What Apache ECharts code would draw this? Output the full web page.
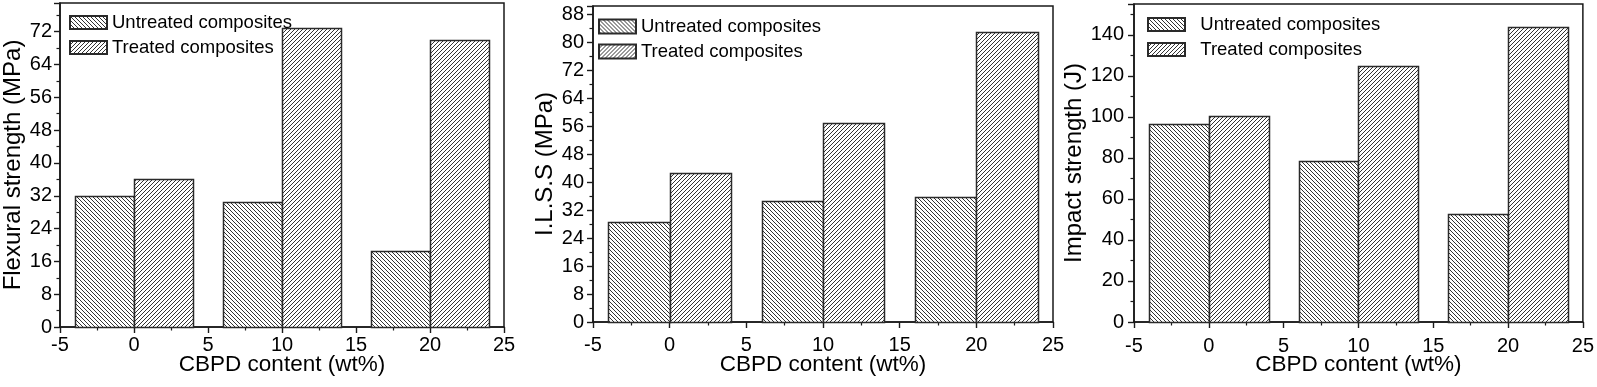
<!DOCTYPE html>
<html>
<head>
<meta charset="utf-8">
<script src="https://cdn.jsdelivr.net/npm/echarts@6/dist/echarts.min.js"></script>
<style>
html,body{margin:0;padding:0;background:#fff;}
#c{width:1597px;height:387px;}
</style>
</head>
<body>
<div id="c"></div>
<script>
// ---- data ----
var contents = [0, 10, 20];                       // CBPD content (wt%)
var flexUntreated = [32, 30.6, 18.5];             // Flexural strength (MPa)
var flexTreated   = [36, 72.9, 70];
var ilssUntreated = [28.7, 34.6, 35.8];           // I.L.S.S (MPa)
var ilssTreated   = [42.8, 56.9, 83];
var impUntreated  = [96.4, 78.3, 52.4];           // Impact strength (J)
var impTreated    = [100.3, 124.7, 143.6];
var seriesNames = ['Untreated composites', 'Treated composites'];
var xTitle = 'CBPD content (wt%)';
var yTitles = ['Flexural strength (MPa)', 'I.L.S.S (MPa)', 'Impact strength (J)'];

var BAR_W = 4; // bar width in x-axis units

function hatch(dir) {
  var s = 4, cv = document.createElement('canvas');
  cv.width = s; cv.height = s;
  var ctx = cv.getContext('2d');
  ctx.fillStyle = '#fff'; ctx.fillRect(0, 0, s, s);
  ctx.fillStyle = '#333';
  for (var i = 0; i < s; i++) {
    var x = dir === 'back' ? i : (s - 1 - i);
    ctx.fillRect(x, i, 1, 1);
  }
  return {image: cv, repeat: 'repeat'};
}
var patU = hatch('back');
var patT = hatch('fwd');

function zip(xs, ys) { return xs.map(function (x, i) { return [x, ys[i]]; }); }

function renderer(left, pat) {
  return function (params, api) {
    var x = api.value(0), y = api.value(1);
    var a = api.coord([left ? x - BAR_W : x, y]);
    var b = api.coord([left ? x : x + BAR_W, 0]);
    return {
      type: 'rect',
      shape: {x: Math.round(a[0]) + 0.5, y: Math.round(a[1]) + 0.5,
              width: Math.round(b[0]) - Math.round(a[0]), height: Math.round(b[1]) - Math.round(a[1])},
      style: {fill: pat, stroke: '#2a2a2a', lineWidth: 1.5}
    };
  };
}

var FONT = 'Liberation Sans, Arial, sans-serif';
var grids = [
  {left: 60, top: 3, width: 444, height: 324},
  {left: 593, top: 6, width: 460, height: 316},
  {left: 1134, top: 4, width: 449, height: 318}
];
var yConf = [
  {max: 79, interval: 8, nameGap: 35, margin: 8},
  {max: 90.5, interval: 8, nameGap: 34, margin: 9},
  {max: 155, interval: 20, nameGap: 43, margin: 10}
];
var xConf = [
  {nameGap: 26.5, margin: 8},
  {nameGap: 31.5, margin: 13},
  {nameGap: 31.5, margin: 14}
];
var legends = [
  {left: 69, top: 13, itemHeight: 13, itemGap: 6, pad: ''},
  {left: 598, top: 17, itemHeight: 14, itemGap: 6, pad: ''},
  {left: 1147, top: 15, itemHeight: 13, itemGap: 6, pad: '  '}
];
var datasets = [
  [flexUntreated, flexTreated],
  [ilssUntreated, ilssTreated],
  [impUntreated, impTreated]
];

var option = {
  animation: false,
  backgroundColor: '#fff',
  textStyle: {fontFamily: FONT, color: '#000'},
  grid: grids.map(function (g) {
    return Object.assign({show: true, borderColor: '#1a1a1a', borderWidth: 1.5, backgroundColor: 'transparent'}, g);
  }),
  legend: legends.map(function (l) {
    return {
      left: l.left, top: l.top, orient: 'vertical', icon: 'rect',
      itemWidth: 37, itemHeight: l.itemHeight, itemGap: l.itemGap,
      padding: 0, selectedMode: false,
      data: seriesNames,
      formatter: function (n) { return l.pad + n; },
      textStyle: {fontFamily: FONT, fontSize: 18.5, color: '#000', lineHeight: 14}
    };
  }),
  xAxis: grids.map(function (g, i) {
    return {
      type: 'value', gridIndex: i, min: -5, max: 25, interval: 5,
      name: xTitle, nameLocation: 'middle', nameGap: xConf[i].nameGap, nameMoveOverlap: false,
      nameTextStyle: {fontFamily: FONT, fontSize: 22.5, color: '#000'},
      axisLine: {show: true, onZero: false, lineStyle: {color: '#1a1a1a', width: 1.6}},
      axisTick: {show: true, inside: false, length: 6, lineStyle: {color: '#1a1a1a', width: 1.4}},
      minorTick: {show: true, splitNumber: 2, length: 3.5, lineStyle: {color: '#1a1a1a', width: 1.2}},
      axisLabel: {fontFamily: FONT, fontSize: 20, color: '#000', margin: xConf[i].margin},
      splitLine: {show: false}
    };
  }),
  yAxis: grids.map(function (g, i) {
    var c = yConf[i];
    return {
      type: 'value', gridIndex: i, min: 0, max: c.max, interval: c.interval,
      name: yTitles[i], nameLocation: 'middle', nameGap: c.nameGap,
      nameTextStyle: {fontFamily: FONT, fontSize: 24, color: '#000'},
      axisLine: {show: true, onZero: false, lineStyle: {color: '#1a1a1a', width: 1.6}},
      axisTick: {show: true, inside: false, length: 6, lineStyle: {color: '#1a1a1a', width: 1.4}},
      minorTick: {show: true, splitNumber: 2, length: 3.5, lineStyle: {color: '#1a1a1a', width: 1.2}},
      axisLabel: {fontFamily: FONT, fontSize: 20, color: '#000', margin: c.margin, showMaxLabel: false,
                  formatter: function (v) { return (v % c.interval === 0) ? String(v) : ''; }},
      splitLine: {show: false}
    };
  }),
  series: []
};

datasets.forEach(function (pair, i) {
  option.series.push({
    type: 'custom', name: seriesNames[0], xAxisIndex: i, yAxisIndex: i,
    data: zip(contents, pair[0]), encode: {x: 0, y: 1},
    itemStyle: {color: patU, borderColor: '#2a2a2a', borderWidth: 1.3},
    renderItem: renderer(true, patU)
  });
  option.series.push({
    type: 'custom', name: seriesNames[1], xAxisIndex: i, yAxisIndex: i,
    data: zip(contents, pair[1]), encode: {x: 0, y: 1},
    itemStyle: {color: patT, borderColor: '#2a2a2a', borderWidth: 1.3},
    renderItem: renderer(false, patT)
  });
});

var chart = echarts.init(document.getElementById('c'), null, {renderer: 'canvas'});
chart.setOption(option);
</script>
</body>
</html>
